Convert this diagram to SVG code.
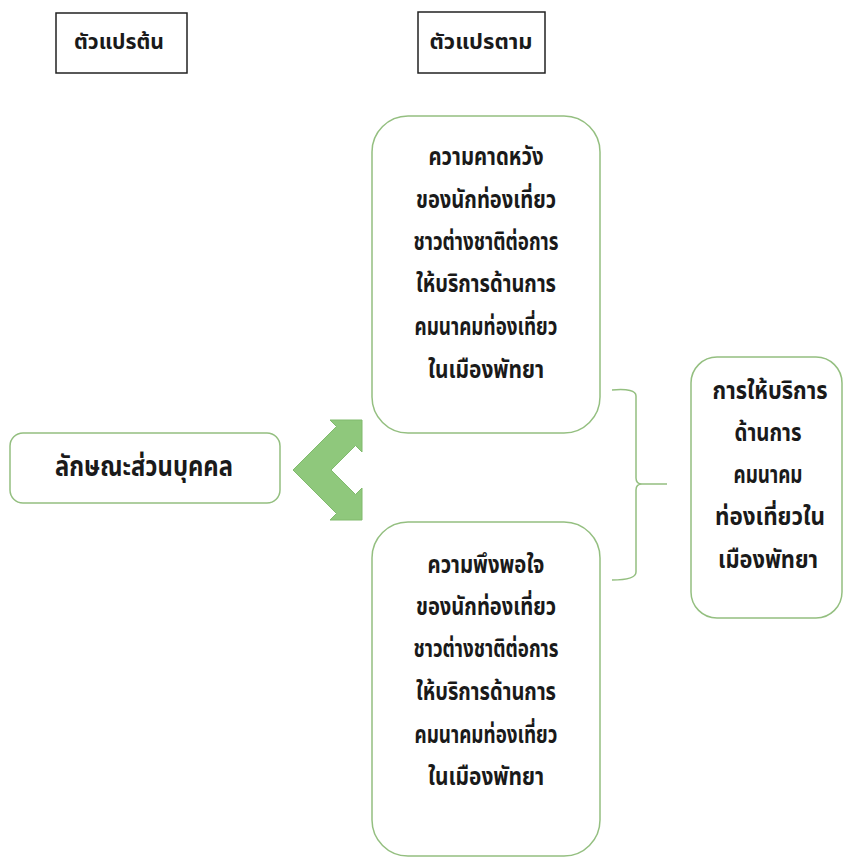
<svg xmlns="http://www.w3.org/2000/svg" width="844" height="858" viewBox="0 0 844 858">
<style>
.hdr{fill:#fff;stroke:#222;stroke-width:1.5}
.rb{fill:#fff;stroke:#94bf80;stroke-width:1.5}
.t{font-family:"Noto Sans Thai","Noto Sans","DejaVu Sans",sans-serif;font-weight:bold;fill:#1a1a1a;text-anchor:middle;dominant-baseline:central}
.s{font-size:24px}
.h{font-size:22px}
.l{font-size:28px}
.brace{fill:none;stroke:#94bf80;stroke-width:1.5}
</style>
<rect width="844" height="858" fill="#fff"/>
<g id="independent-label">
<rect class="hdr" x="56" y="13" width="131" height="60"/>
<text class="t h" x="119" y="42" textLength="90" lengthAdjust="spacingAndGlyphs">ตัวแปรต้น</text>
</g>
<g id="dependent-label">
<rect class="hdr" x="418" y="12" width="127" height="61"/>
<text class="t h" x="481" y="42" textLength="103" lengthAdjust="spacingAndGlyphs">ตัวแปรตาม</text>
</g>
<g id="personal">
<rect class="rb" x="10" y="433" width="270" height="70" rx="13"/>
<text class="t l" x="144" y="467" textLength="178" lengthAdjust="spacingAndGlyphs">ลักษณะส่วนบุคคล</text>
</g>
<g id="expectation">
<rect class="rb" x="372" y="116" width="228" height="317" rx="36"/>
<text class="t s" x="486" y="158" textLength="115" lengthAdjust="spacingAndGlyphs">ความคาดหวัง</text>
<text class="t s" x="486" y="201" textLength="140" lengthAdjust="spacingAndGlyphs">ของนักท่องเที่ยว</text>
<text class="t s" x="486" y="243" textLength="145" lengthAdjust="spacingAndGlyphs">ชาวต่างชาติต่อการ</text>
<text class="t s" x="486" y="285" textLength="140" lengthAdjust="spacingAndGlyphs">ให้บริการด้านการ</text>
<text class="t s" x="486" y="328" textLength="143" lengthAdjust="spacingAndGlyphs">คมนาคมท่องเที่ยว</text>
<text class="t s" x="486" y="371" textLength="116" lengthAdjust="spacingAndGlyphs">ในเมืองพัทยา</text>
</g>
<g id="satisfaction">
<rect class="rb" x="372" y="522" width="228" height="334" rx="36"/>
<text class="t s" x="486" y="566" textLength="117" lengthAdjust="spacingAndGlyphs">ความพึงพอใจ</text>
<text class="t s" x="486" y="608" textLength="140" lengthAdjust="spacingAndGlyphs">ของนักท่องเที่ยว</text>
<text class="t s" x="486" y="650" textLength="145" lengthAdjust="spacingAndGlyphs">ชาวต่างชาติต่อการ</text>
<text class="t s" x="486" y="693" textLength="140" lengthAdjust="spacingAndGlyphs">ให้บริการด้านการ</text>
<text class="t s" x="486" y="736" textLength="143" lengthAdjust="spacingAndGlyphs">คมนาคมท่องเที่ยว</text>
<text class="t s" x="486" y="778" textLength="116" lengthAdjust="spacingAndGlyphs">ในเมืองพัทยา</text>
</g>
<g id="service">
<rect class="rb" x="691" y="357" width="151" height="261" rx="26"/>
<text class="t s" x="770" y="392" textLength="115" lengthAdjust="spacingAndGlyphs">การให้บริการ</text>
<text class="t s" x="768" y="434" textLength="67" lengthAdjust="spacingAndGlyphs">ด้านการ</text>
<text class="t s" x="768" y="476" textLength="69" lengthAdjust="spacingAndGlyphs">คมนาคม</text>
<text class="t s" x="770" y="518" textLength="110" lengthAdjust="spacingAndGlyphs">ท่องเที่ยวใน</text>
<text class="t s" x="768" y="561" textLength="100" lengthAdjust="spacingAndGlyphs">เมืองพัทยา</text>
</g>
<g id="connectors">
<polygon points="362,420 362,452 355.5,445.5 331,470 355.5,494.5 362,488 362,520 330,520 336.5,513.5 293,470 336.5,426.5 330,420" fill="#8fc87c" stroke="#80ba6d" stroke-width="1"/>
<path class="brace" d="M612,390 Q636,388 636,396 L636,478 Q636,484 642,484 L667,484 M642,484 Q636,484 636,490 L636,572 Q636,580 612,580"/>
</g>
</svg>
